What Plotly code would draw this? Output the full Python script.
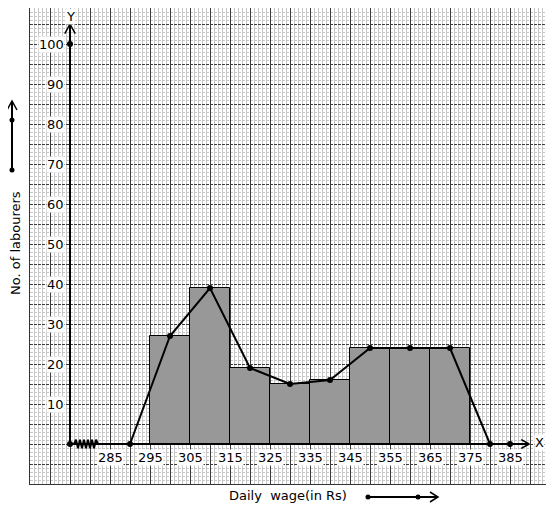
import plotly.graph_objects as go

# ---- data ----
class_lower = [295, 305, 315, 325, 335, 345, 355, 365]
class_upper = [305, 315, 325, 335, 345, 355, 365, 375]
labourers = [27, 39, 19, 15, 16, 24, 24, 24]
x_tick_labels = [285, 295, 305, 315, 325, 335, 345, 355, 365, 375, 385]
y_tick_labels = [10, 20, 30, 40, 50, 60, 70, 80, 90, 100]

mid = [(a + b) / 2 for a, b in zip(class_lower, class_upper)]
widths = [b - a for a, b in zip(class_lower, class_upper)]
poly_x = [class_lower[0] - 5] + mid + [class_upper[-1] + 5]
poly_y = [0] + labourers + [0]

X0, Y0 = 275, 0  # origin of drawn axes
FONT = "DejaVu Sans"

fig = go.Figure()

# histogram
fig.add_trace(go.Bar(
    x=mid, y=labourers, width=widths,
    marker=dict(color="#989898", line=dict(color="black", width=1)),
    hoverinfo="skip", showlegend=False,
))

# axes (thick lines)
fig.add_trace(go.Scatter(x=[X0, 389.8], y=[0, 0], mode="lines",
                         line=dict(color="black", width=2), showlegend=False, hoverinfo="skip"))
fig.add_trace(go.Scatter(x=[X0, X0], y=[0, 105], mode="lines",
                         line=dict(color="black", width=2), showlegend=False, hoverinfo="skip"))
# arrow heads on axes
fig.add_trace(go.Scatter(x=[387.8, 389.8, 387.8], y=[1.1, 0, -1.1], mode="lines",
                         line=dict(color="black", width=1.5), showlegend=False, hoverinfo="skip"))
fig.add_trace(go.Scatter(x=[X0 - 1.3, X0, X0 + 1.3], y=[102.6, 105, 102.6], mode="lines",
                         line=dict(color="black", width=1.5), showlegend=False, hoverinfo="skip"))

# kink (zig-zag) on x axis
zx = [X0 + 1 + 0.5 * i for i in range(13)]
zy = [(1.1 if i % 2 else -1.1) for i in range(13)]
zy[0] = 0
zy[-1] = 0
fig.add_trace(go.Scatter(x=zx, y=zy, mode="lines",
                         line=dict(color="black", width=2), showlegend=False, hoverinfo="skip"))

# frequency polygon
fig.add_trace(go.Scatter(x=poly_x, y=poly_y, mode="lines+markers",
                         line=dict(color="black", width=2),
                         marker=dict(color="black", size=6),
                         showlegend=False, hoverinfo="skip"))

# extra dots
fig.add_trace(go.Scatter(x=[X0, X0, 385], y=[0, 100, 0], mode="markers",
                         marker=dict(color="black", size=6),
                         showlegend=False, hoverinfo="skip"))

ann = []
for v in y_tick_labels:
    ann.append(dict(x=X0, y=v, xref="x", yref="y", text=str(v), showarrow=False,
                    xanchor="right", yanchor="middle", xshift=-5,
                    font=dict(family=FONT, size=13, color="black"),
                    bgcolor="white", borderpad=0))
for v in x_tick_labels:
    ann.append(dict(x=v, y=-3.25, xref="x", yref="y", text=str(v), showarrow=False,
                    xanchor="center", yanchor="middle",
                    font=dict(family=FONT, size=13, color="black"),
                    bgcolor="white", borderpad=0))
ann.append(dict(x=X0, y=107.0, xref="x", yref="y", text="Y", showarrow=False,
                font=dict(family=FONT, size=13, color="black"), bgcolor="white", borderpad=0))
ann.append(dict(x=392.3, y=0.3, xref="x", yref="y", text="X", showarrow=False,
                font=dict(family=FONT, size=13, color="black"), bgcolor="white", borderpad=0))

# page body has an 8px margin: figure pixel = page pixel - 8
PLOT_H = 476


def px(p):
    return (p - 30) / 520


def py(p):
    return (484 - p) / PLOT_H


ann.append(dict(x=px(15), y=py(243), xref="paper", yref="paper", text="No. of labourers",
                textangle=-90, showarrow=False, xanchor="center", yanchor="middle",
                font=dict(family=FONT, size=13, color="black")))
ann.append(dict(x=px(288), y=py(496), xref="paper", yref="paper", text="Daily  wage(in Rs)",
                showarrow=False, xanchor="center", yanchor="middle",
                font=dict(family=FONT, size=13, color="black")))

shapes = []
# left arrow
shapes.append(dict(type="line", xref="paper", yref="paper", x0=px(12), y0=py(170), x1=px(12), y1=py(101),
                   line=dict(color="black", width=2)))
shapes.append(dict(type="path", xref="paper", yref="paper",
                   path=f"M {px(7)} {py(110)} L {px(12)} {py(101)} L {px(17)} {py(110)}",
                   line=dict(color="black", width=1.5)))
for yy in (170, 120):
    shapes.append(dict(type="circle", xref="paper", yref="paper",
                       x0=px(9.5), x1=px(14.5), y0=py(yy - 2.5), y1=py(yy + 2.5),
                       fillcolor="black", line=dict(color="black", width=0)))
# bottom arrow
shapes.append(dict(type="line", xref="paper", yref="paper", x0=px(368), y0=py(497), x1=px(438), y1=py(497),
                   line=dict(color="black", width=2)))
shapes.append(dict(type="path", xref="paper", yref="paper",
                   path=f"M {px(430)} {py(492)} L {px(438)} {py(497)} L {px(430)} {py(502)}",
                   line=dict(color="black", width=1.5)))
for xx in (368, 418):
    shapes.append(dict(type="circle", xref="paper", yref="paper",
                       x0=px(xx - 2.5), x1=px(xx + 2.5), y0=py(494.5), y1=py(499.5),
                       fillcolor="black", line=dict(color="black", width=0)))

fig.update_layout(
    width=546, height=502,
    margin=dict(l=22, r=4, t=0, b=26),
    paper_bgcolor="white", plot_bgcolor="white",
    bargap=0,
    annotations=ann, shapes=shapes,
    xaxis=dict(range=[265, 395], tick0=265, dtick=5, showgrid=True,
               gridcolor="#3c3c3c", gridwidth=1, showticklabels=False, ticks="",
               zeroline=False, showline=True, linecolor="#333333", linewidth=1, mirror=True,
               minor=dict(dtick=1, tick0=265, showgrid=True, gridcolor="#c6c6c6", gridwidth=1),
               fixedrange=True),
    yaxis=dict(range=[-10, 109], tick0=0, dtick=5, showgrid=True,
               gridcolor="#3c3c3c", gridwidth=1, griddash="3px,1px",
               showticklabels=False, ticks="",
               zeroline=False, showline=True, linecolor="#333333", linewidth=1, mirror=True,
               minor=dict(dtick=1, tick0=0, showgrid=True, gridcolor="#c6c6c6", gridwidth=1),
               fixedrange=True),
)

fig.write_html("out.html")
